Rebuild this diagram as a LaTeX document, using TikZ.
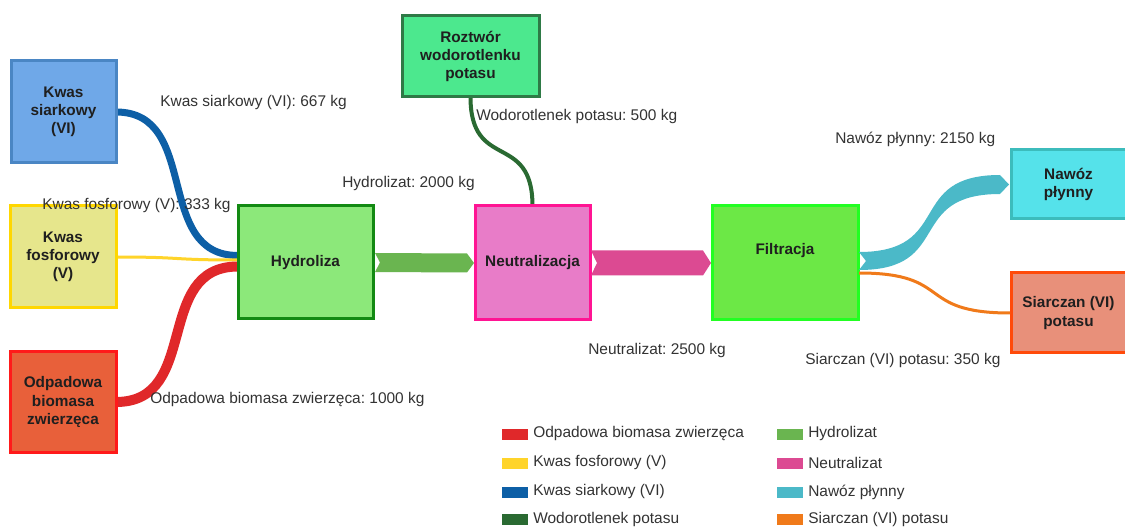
\documentclass[tikz,border=0pt]{standalone}
\usepackage{fontspec}
\setmainfont{Liberation Sans}
\usetikzlibrary{calc}
\frenchspacing
\pgfdeclarelayer{flows}
\pgfsetlayers{flows,main}
\definecolor{txt}{HTML}{333333}
\definecolor{siarkF}{HTML}{6FA8E8}\definecolor{siarkD}{HTML}{4A86C4}
\definecolor{fosfF}{HTML}{E6E68C}\definecolor{fosfD}{HTML}{FFD700}
\definecolor{odpF}{HTML}{E8603A}\definecolor{odpD}{HTML}{FF1A1A}
\definecolor{hydroF}{HTML}{8CE87A}\definecolor{hydroD}{HTML}{138A13}
\definecolor{roztwF}{HTML}{4CE88E}\definecolor{roztwD}{HTML}{2E7A46}
\definecolor{neutF}{HTML}{E87CC8}\definecolor{neutD}{HTML}{FF1493}
\definecolor{filtrF}{HTML}{6CE846}\definecolor{filtrD}{HTML}{22FF22}
\definecolor{nawozF}{HTML}{55E2EA}\definecolor{nawozD}{HTML}{3CBCBC}
\definecolor{siarczF}{HTML}{E8907A}\definecolor{siarczD}{HTML}{FF4A0A}
\definecolor{fSiark}{HTML}{0D5FA6}
\definecolor{fFosf}{HTML}{FFD42A}
\definecolor{fOdp}{HTML}{E0282A}
\definecolor{fWod}{HTML}{2A6A32}
\definecolor{fHydro}{HTML}{6AB550}
\definecolor{fNeut}{HTML}{DC4A92}
\definecolor{fNawoz}{HTML}{4BB9C8}
\definecolor{fSiarcz}{HTML}{F07A1A}
\begin{document}
\begin{tikzpicture}[x=0.75pt,y=-0.75pt,
  box/.style={draw, line width=2.25pt, outer sep=0pt, inner sep=0pt, align=center,
    font=\fontsize{11.5}{13.6}\selectfont\bfseries, text=black!88},
  lbl/.style={anchor=west, text=txt, inner sep=0pt, font=\fontsize{11.6}{13.6}\selectfont},
  sw/.style={minimum width=26*0.75pt, minimum height=11*0.75pt, inner sep=0pt, outer sep=0pt},
  flow/.style={line cap=butt}]
\begin{pgfonlayer}{flows}
\fill[white] (0,0) rectangle (1125,527);
\end{pgfonlayer}
\useasboundingbox (0,0) rectangle (1125,527);

% nodes
\node[box, fill=siarkF, draw=siarkD, minimum width=105*0.75pt, minimum height=102*0.75pt] (siark) at (63.5,112) {Kwas\\siarkowy\\(VI)};
\node[box, fill=fosfF, draw=fosfD, minimum width=106*0.75pt, minimum height=102*0.75pt] (fosf) at (63,257) {Kwas\\fosforowy\\(V)};
\node[box, fill=odpF, draw=odpD, minimum width=106*0.75pt, minimum height=100*0.75pt] (odp) at (63,402) {Odpadowa\\biomasa\\zwierzęca};
\node[box, fill=hydroF, draw=hydroD, minimum width=135*0.75pt, minimum height=113*0.75pt] (hydro) at (305.5,262.5) {Hydroliza};
\node[box, fill=roztwF, draw=roztwD, minimum width=137*0.75pt, minimum height=81*0.75pt] (roztw) at (470.5,56.5) {Roztwór\\wodorotlenku\\potasu};
\node[box, fill=neutF, draw=neutD, minimum width=115*0.75pt, minimum height=114*0.75pt] (neut) at (532.5,263) {Neutralizacja};
\node[box, fill=filtrF, draw=filtrD, minimum width=146*0.75pt, minimum height=114*0.75pt] (filtr) at (785,263) {};
\node[box, fill=nawozF, draw=nawozD, minimum width=115*0.75pt, minimum height=69*0.75pt] (nawoz) at (1068.5,184.5) {Nawóz\\płynny};
\node[box, fill=siarczF, draw=siarczD, minimum width=115*0.75pt, minimum height=80*0.75pt] (siarcz) at (1068.5,313) {Siarczan (VI)\\potasu};
\node[font=\fontsize{11.5}{13.6}\selectfont\bfseries, text=black!88] (filtrtxt) at (785,251) {Filtracja};

% curved flows, below the boxes
\begin{pgfonlayer}{flows}
\draw[flow, line width=7*0.75pt, fSiark] (siark.east) .. controls +(85,0) and +(-85,0) .. ($(hydro.west)+(0,-7)$);
\draw[flow, line width=3*0.75pt, fFosf] (fosf.east) .. controls +(70,0) and +(-70,0) .. ($(hydro.west)+(0,-2.5)$);
\draw[flow, line width=10*0.75pt, fOdp] (odp.east) .. controls +(85,0) and +(-85,0) .. ($(hydro.west)+(0,4)$);
\draw[flow, line width=4*0.75pt, fWod] (roztw.south) .. controls +(0,75) and +(0,-75) .. (neut.north);
\end{pgfonlayer}

% arrow-shaped flows
\fill[fHydro] ($(hydro.east)+(2,-9.5)$) -- ($(neut.west)+(-8,-9.5)$) -- ($(neut.west)+(-1,0)$) -- ($(neut.west)+(-8,9.5)$) -- ($(hydro.east)+(2,9.5)$) -- ($(hydro.east)+(7,0)$) -- cycle;
\fill[fNeut] ($(neut.east)+(1,-12.5)$) -- ($(filtr.west)+(-9,-12.5)$) -- ($(filtr.west)+(-1,0)$) -- ($(filtr.west)+(-9,12.5)$) -- ($(neut.east)+(1,12.5)$) -- ($(neut.east)+(7,0)$) -- cycle;
\fill[fNawoz] ($(filtr.east)+(1,-11)$) .. controls +(95,0) and +(-95,0) .. ($(nawoz.west)+(-11,-9.5)$) -- ($(nawoz.west)+(-2,0)$) -- ($(nawoz.west)+(-11,9.5)$) .. controls +(-95,0) and +(95,0) .. ($(filtr.east)+(1,7)$) -- ($(filtr.east)+(8,-2)$) -- cycle;
\draw[flow, line width=3*0.75pt, fSiarcz] ($(filtr.east)+(1,10)$) .. controls +(95,0) and +(-95,0) .. ($(siarcz.west)+(-1,0)$);

% flow labels
\node[lbl] (l1) at (160,103) {Kwas siarkowy (VI): 667 kg};
\node[lbl] (l2) at (42,206) {Kwas fosforowy (V): 333 kg};
\node[lbl] (l3) at (150,400) {Odpadowa biomasa zwierzęca: 1000 kg};
\node[lbl] (l4) at (342,184) {Hydrolizat: 2000 kg};
\node[lbl] (l5) at (476,117) {Wodorotlenek potasu: 500 kg};
\node[lbl] (l6) at (588,351) {Neutralizat: 2500 kg};
\node[lbl] (l7) at (835,139) {Nawóz płynny: 2150 kg};
\node[lbl] (l8) at (805,361) {Siarczan (VI) potasu: 350 kg};

% legend
\node[sw, fill=fOdp] (s1) at (515,434) {};
\node[lbl] (t1) at (533,434) {Odpadowa biomasa zwierzęca};
\node[sw, fill=fFosf] (s2) at (515,463) {};
\node[lbl] (t2) at (533,463) {Kwas fosforowy (V)};
\node[sw, fill=fSiark] (s3) at (515,492) {};
\node[lbl] (t3) at (533,492) {Kwas siarkowy (VI)};
\node[sw, fill=fWod] (s4) at (515,519) {};
\node[lbl] (t4) at (533,519) {Wodorotlenek potasu};
\node[sw, fill=fHydro] (s5) at (790,434) {};
\node[lbl] (t5) at (808,434) {Hydrolizat};
\node[sw, fill=fNeut] (s6) at (790,463) {};
\node[lbl] (t6) at (808,463) {Neutralizat};
\node[sw, fill=fNawoz] (s7) at (790,492) {};
\node[lbl] (t7) at (808,492) {Nawóz płynny};
\node[sw, fill=fSiarcz] (s8) at (790,519) {};
\node[lbl] (t8) at (808,519) {Siarczan (VI) potasu};
\end{tikzpicture}
\end{document}
